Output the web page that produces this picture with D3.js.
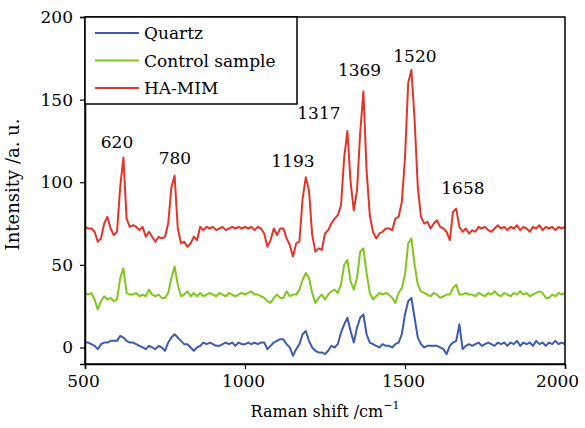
<!DOCTYPE html>
<html>
<head>
<meta charset="utf-8">
<script src="https://cdn.jsdelivr.net/npm/d3@7"></script>
<style>
  body { margin: 0; background: #fff; }
</style>
</head>
<body>
<div id="chart"></div>
<script>
// Raman shift grid (cm^-1)
const shifts = [
  500,510,520,530,540,550,560,570,580,590,
  600,610,620,630,640,650,660,670,680,690,
  700,710,720,730,740,750,760,770,780,790,
  800,810,820,830,840,850,860,870,880,890,
  900,910,920,930,940,950,960,970,980,990,
  1000,1010,1020,1030,1040,1050,1060,1070,1080,1090,
  1100,1110,1120,1130,1140,1150,1160,1170,1180,1190,
  1200,1210,1220,1230,1240,1250,1260,1270,1280,1290,
  1300,1310,1320,1330,1340,1350,1360,1370,1380,1390,
  1400,1410,1420,1430,1440,1450,1460,1470,1480,1490,
  1500,1510,1520,1530,1540,1550,1560,1570,1580,1590,
  1600,1610,1620,1630,1640,1650,1660,1670,1680,1690,
  1700,1710,1720,1730,1740,1750,1760,1770,1780,1790,
  1800,1810,1820,1830,1840,1850,1860,1870,1880,1890,
  1900,1910,1920,1930,1940,1950,1960,1970,1980,1990,
  2000
];

const quartz = [
  3,3,2,1,-1,2,3,3,4,4,
  4,7,6,4,3,3,2,1,0,-1,
  1,0,-1,1,0,-2,3,6,8,6,
  4,2,2,0,-2,0,1,3,2,3,
  2,1,1,2,3,2,3,1,3,2,
  2,3,2,3,2,3,3,-1,1,3,
  4,5,5,2,0,-5,-1,2,8,10,
  4,0,-2,-3,-3,-4,-2,1,0,2,
  9,14,18,10,3,12,18,20,8,3,
  2,1,0,2,1,1,0,2,3,8,
  20,28,30,18,6,2,0,1,1,1,
  1,0,-1,-4,1,3,4,14,-1,1,
  2,1,2,3,1,2,3,2,1,3,
  2,3,1,3,2,4,1,3,2,3,
  1,4,2,3,1,3,2,4,2,3,
  2
];

const control = [
  33,32,33,29,23,28,31,29,30,28,
  29,42,48,33,32,32,33,31,32,31,
  35,32,31,32,30,30,33,42,49,38,
  31,32,34,31,33,31,33,31,32,33,
  32,31,33,32,31,33,32,31,32,33,
  32,33,34,32,32,31,30,28,27,30,
  32,30,30,34,31,32,32,35,41,45,
  42,33,27,30,32,29,32,34,35,33,
  38,50,53,40,35,42,58,60,45,33,
  29,31,33,32,33,32,30,27,33,36,
  44,63,66,50,38,34,33,32,31,33,
  32,30,31,32,32,36,38,32,32,33,
  32,32,31,33,32,31,33,32,34,32,
  31,33,32,31,33,32,34,32,33,31,
  32,33,34,33,30,30,32,31,33,32,
  33
];

const haMim = [
  73,72,72,70,64,66,75,79,72,68,
  70,97,115,78,73,74,73,71,73,67,
  70,67,64,67,66,67,75,97,104,72,
  63,64,61,63,67,65,73,71,73,72,
  73,71,72,73,71,72,73,72,73,72,
  73,72,73,71,73,72,69,61,65,72,
  68,72,72,66,62,55,63,64,90,103,
  95,68,58,60,59,69,71,75,78,80,
  86,115,131,100,83,95,130,155,107,80,
  70,66,69,70,72,72,71,78,79,88,
  115,160,168,138,97,79,75,76,72,75,
  77,73,72,70,65,82,84,73,70,72,
  69,71,70,73,72,73,71,70,72,74,
  72,73,71,73,72,74,71,73,72,70,
  73,72,74,71,73,72,73,71,73,72,
  73
];

const seriesNames = ["Quartz", "Control sample", "HA-MIM"];
const seriesColors = ["#3f59ad", "#80c61c", "#e2352a"];
const seriesValues = [quartz, control, haMim];

// peak labels and where they sit (data units)
const peakLabels = ["620", "780", "1193", "1317", "1369", "1520", "1658"];
const peakLabelX = [600, 781, 1150, 1231, 1358, 1531, 1681];
const peakLabelY = [121, 111, 109, 138, 164, 173, 93];

const xTicks = [500, 1000, 1500, 2000];
const yTicks = [0, 50, 100, 150, 200];

// only DejaVu Serif renders as a serif face here
const FONT = "DejaVu Serif";
const FS = 17;

// Set dimensions and margins
const W = 585, H = 428;
const margin = { top: 17, right: 20, bottom: 64, left: 85 };
const width = W - margin.left - margin.right;
const height = H - margin.top - margin.bottom;

const x = d3.scaleLinear().domain([500, 2000]).range([0, width]);
const y = d3.scaleLinear().domain([-10, 200]).range([height, 0]);

const svg = d3.select("#chart")
  .append("svg")
  .attr("width", W)
  .attr("height", H)
  .append("g")
  .attr("transform", `translate(${margin.left},${margin.top})`);

// lines
const line = d3.line()
  .x((d, i) => x(shifts[i]))
  .y(d => y(d));

seriesValues.forEach((vals, k) => {
  svg.append("path")
    .datum(vals)
    .attr("fill", "none")
    .attr("stroke", seriesColors[k])
    .attr("stroke-width", 2)
    .attr("stroke-linejoin", "round")
    .attr("d", line);
});

// frame
svg.append("rect")
  .attr("width", width)
  .attr("height", height)
  .attr("fill", "none")
  .attr("stroke", "#000")
  .attr("stroke-width", 1.5);

// axes
const xAxis = svg.append("g")
  .attr("transform", `translate(0,${height})`)
  .call(d3.axisBottom(x).tickValues(xTicks).tickSize(5).tickPadding(6).tickFormat(d3.format("d")));

const yAxis = svg.append("g")
  .call(d3.axisLeft(y).tickValues(yTicks).tickSize(5).tickPadding(7).tickFormat(d3.format("d")));

[xAxis, yAxis].forEach(g => {
  g.attr("font-family", FONT).attr("font-size", FS);
  g.select(".domain").attr("stroke", "#000").attr("stroke-width", 1.5);
  g.selectAll(".tick line").attr("stroke", "#000").attr("stroke-width", 1.2);
  g.selectAll(".tick text").attr("fill", "#000");
});

// x labels sit a touch left of their ticks; keep the last one inside the page
xAxis.selectAll(".tick text")
  .attr("dx", d => d === 2000 ? -8 : -2);

// peak labels
svg.selectAll(".peak")
  .data(peakLabels)
  .enter()
  .append("text")
  .attr("class", "peak")
  .attr("x", (d, i) => x(peakLabelX[i]))
  .attr("y", (d, i) => y(peakLabelY[i]))
  .attr("text-anchor", "middle")
  .attr("font-family", FONT)
  .attr("font-size", FS)
  .text(d => d);

// axis titles
const xTitle = svg.append("text")
  .attr("x", width / 2)
  .attr("y", height + 53)
  .attr("text-anchor", "middle")
  .attr("font-family", FONT)
  .attr("font-size", 16);
xTitle.append("tspan").text("Raman shift /cm");
xTitle.append("tspan")
  .attr("dy", -8)
  .attr("font-size", 11)
  .text("\u22121");

svg.append("text")
  .attr("transform", `translate(${-66},${height / 2 - 6}) rotate(-90)`)
  .attr("text-anchor", "middle")
  .attr("font-family", FONT)
  .attr("font-size", 18)
  .text("Intensity /a. u.");

// legend
const legend = svg.append("g");
legend.append("rect")
  .attr("x", 0)
  .attr("y", 0)
  .attr("width", 212)
  .attr("height", 87)
  .attr("fill", "#fff")
  .attr("stroke", "#000")
  .attr("stroke-width", 1.5);

seriesNames.forEach((name, k) => {
  const ly = 16 + k * 27.5;
  legend.append("line")
    .attr("x1", 10).attr("x2", 54)
    .attr("y1", ly).attr("y2", ly)
    .attr("stroke", seriesColors[k])
    .attr("stroke-width", 2);
  legend.append("text")
    .attr("x", 59)
    .attr("y", ly + 6)
    .attr("font-family", FONT)
    .attr("font-size", FS)
    .text(name);
});
</script>
</body>
</html>
